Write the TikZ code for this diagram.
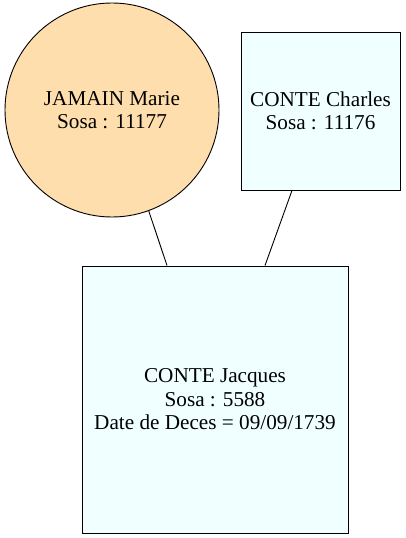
\documentclass[tikz,border=0pt]{standalone}
\usepackage{fontspec}
\setmainfont{Liberation Serif}
\definecolor{peach}{HTML}{FFDEAD}
\definecolor{azurefill}{HTML}{F0FFFF}
\begin{document}
\begin{tikzpicture}[x=1pt,y=1pt,
  person/.style={draw=black, line width=0.9pt, align=center, inner sep=0pt,
    font=\fontsize{21.2}{23.5}\selectfont},
  link/.style={draw=black, line width=0.9pt}]
\useasboundingbox (0,0) rectangle (406,538);
\node[person, circle, fill=peach, minimum size=214pt] (m) at (112,428) {JAMAIN Marie\\Sosa : 11177};
\node[person, rectangle, fill=azurefill, minimum width=159pt, minimum height=158pt] (c) at (320.5,427) {CONTE Charles\\Sosa : 11176};
\node[person, rectangle, fill=azurefill, minimum width=266pt, minimum height=267pt] (j) at (215,138.5) {CONTE Jacques\\Sosa : 5588\\Date de Deces = 09/09/1739};
\draw[link] (m.-70.7) -- ([xshift=-48pt]j.north);
\draw[link] ([xshift=-28.5pt]c.south) -- ([xshift=50pt]j.north);
\end{tikzpicture}
\end{document}
